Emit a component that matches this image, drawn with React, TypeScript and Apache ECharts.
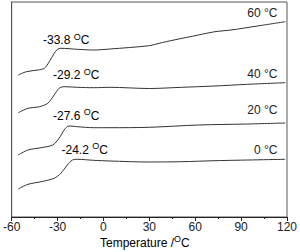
import React, { useEffect, useRef } from "react";
import * as echarts from "echarts";

// DSC curves: [temperature °C, heat-flow (arbitrary, stacked offsets)]
const curve60: [number, number][] = [
  [-55.7, 142], [-50.4, 145.3], [-42.8, 147], [-38.6, 148.7], [-35.4, 155.3], [-32.2, 163.7],
  [-30.0, 167.7], [-27.9, 168.7], [-17.1, 167.7], [-6.6, 167], [4.3, 168], [30, 171.3],
  [36.4, 173.7], [46.1, 177], [62.1, 182], [72.9, 185.3], [83.4, 187], [100.7, 191], [118.9, 195.3],
];
const curve40: [number, number][] = [
  [-55.7, 104.3], [-49.3, 108.7], [-41.8, 110.3], [-36.4, 113.7], [-32.2, 122], [-29.0, 128.7],
  [-25.7, 130.3], [-17.1, 129.7], [-6.5, 129.3], [4.3, 129.7], [30, 128.5], [51.2, 129.7],
  [72.9, 131], [94.3, 132.7], [118.9, 134.3],
];
const curve20: [number, number][] = [
  [-55.7, 62], [-49.3, 67], [-40.7, 69.3], [-33.2, 72], [-29.0, 78.7], [-25.7, 87],
  [-22.5, 91], [-17.1, 90.3], [-6.5, 89.3], [4.3, 89.3], [30, 89.7], [62.1, 92],
  [94.3, 93], [118.8, 94],
];
const curve0: [number, number][] = [
  [-55.7, 28], [-49.3, 32.7], [-40.7, 35.3], [-32.2, 38.7], [-27.9, 43.7], [-23.6, 52],
  [-20.3, 57], [-17.1, 57.7], [-6.5, 56.7], [4.3, 56], [30, 55], [51.2, 55.3],
  [72.9, 56.3], [118.8, 57.7],
];
const curves = [curve60, curve40, curve20, curve0];
const seriesNames = ["60 °C", "40 °C", "20 °C", "0 °C"];
const tgLabels = ["-33.8 ", "-29.2 ", "-27.6 ", "-24.2 "];
const xTicks = [-60, -30, 0, 30, 60, 90, 120];

const FONT = "Liberation Sans, Arial, sans-serif";

export default function App() {
  const ref = useRef<HTMLDivElement>(null);
  useEffect(() => {
    if (!ref.current) return;
    const chart = echarts.init(ref.current, undefined, { renderer: "svg" });
    const supRich = {
      n: { fontSize: 12, fontFamily: FONT, color: "#222", lineHeight: 14, verticalAlign: "bottom" },
      sup: { fontSize: 9, fontFamily: FONT, color: "#222", lineHeight: 9, verticalAlign: "top" },
    };
    const tgPos = [
      [43, 39],
      [53, 74],
      [53, 114.8],
      [61.5, 148.5],
    ];
    const rightPos = [13, 74, 110, 149.5];
    const graphics: any[] = [];
    tgLabels.forEach((t, i) => {
      graphics.push({
        type: "text",
        x: tgPos[i][0],
        y: tgPos[i][1],
        style: {
          text: `{n|${t}}{sup|O}{n|C}`,
          rich: supRich,
          align: "left",
          verticalAlign: "middle",
          font: `12px ${FONT}`,
        },
      });
    });
    seriesNames.forEach((t, i) => {
      graphics.push({
        type: "text",
        x: 277.5,
        y: rightPos[i],
        style: {
          text: t,
          align: "right",
          verticalAlign: "middle",
          font: `12px ${FONT}`,
          fill: "#222",
        },
      });
    });
    graphics.push({
      type: "text",
      x: 100,
      y: 241.5,
      style: {
        text: "{n|Temperature /}{sup|O}{n|C}",
        rich: supRich,
        align: "left",
        verticalAlign: "middle",
        font: `12px ${FONT}`,
      },
    });
    chart.setOption({
      animation: false,
      grid: {
        left: 10,
        right: 10,
        top: 2,
        bottom: 35,
        show: true,
        borderColor: "#555",
        borderWidth: 1,
      },
      xAxis: {
        type: "value",
        min: -60,
        max: 120,
        interval: 30,
        axisLine: { show: true, onZero: false, lineStyle: { color: "#222", width: 1 } },
        axisTick: { show: true, length: 4, lineStyle: { color: "#222" } },
        minorTick: { show: true, splitNumber: 2, length: 2, lineStyle: { color: "#222" } },
        axisLabel: {
          fontSize: 12,
          fontFamily: FONT,
          color: "#222",
          margin: 4,
          formatter: (v: number) => (xTicks.includes(v) ? String(v) : ""),
        },
        splitLine: { show: false },
        minorSplitLine: { show: false },
      },
      yAxis: {
        type: "value",
        min: 0,
        max: 215,
        axisLine: { show: true, onZero: false, lineStyle: { color: "#555" } },
        axisTick: { show: false },
        axisLabel: { show: false },
        splitLine: { show: false },
      },
      series: curves.map((d, i) => ({
        name: seriesNames[i],
        type: "line",
        data: d,
        showSymbol: false,
        smooth: 0.3,
        lineStyle: { color: "#333", width: 1 },
      })),
      graphic: graphics,
    });
    return () => chart.dispose();
  }, []);
  return (
    <div
      ref={ref}
      style={{ position: "absolute", left: 0, top: 0, width: 300, height: 252 }}
    />
  );
}
